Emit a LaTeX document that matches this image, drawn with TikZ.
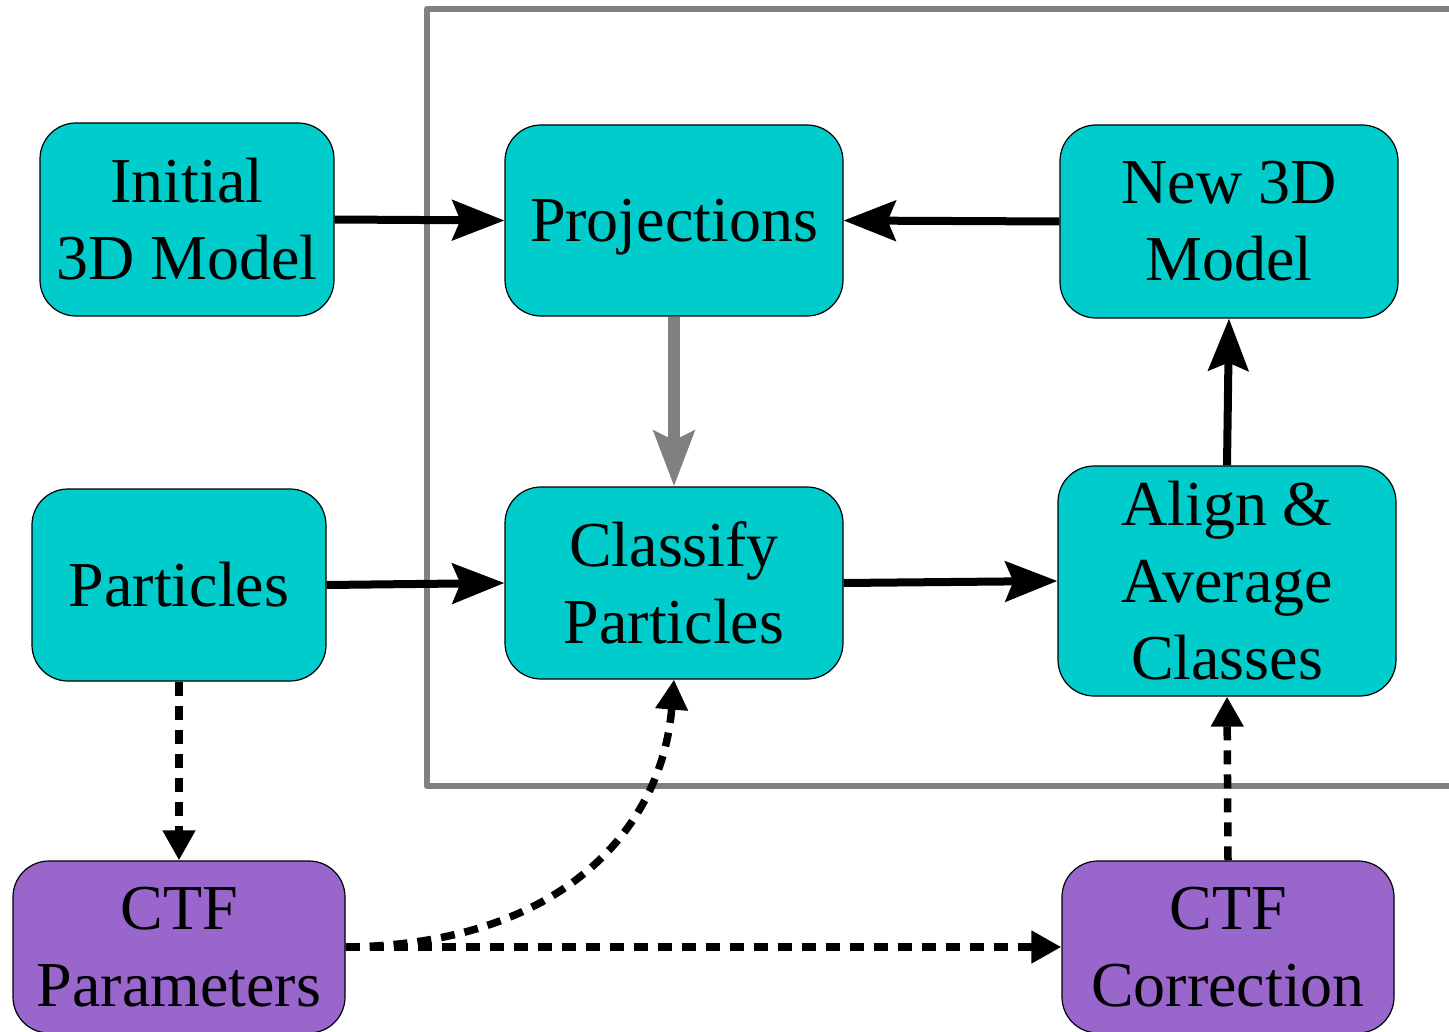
\documentclass[tikz,border=0pt]{standalone}
\usepackage{fontspec}
\setmainfont{Liberation Serif}
\usetikzlibrary{arrows.meta}
\definecolor{boxteal}{RGB}{0,204,204}
\definecolor{boxpurple}{RGB}{153,102,204}
\definecolor{framegray}{RGB}{128,128,128}
\tikzset{
  procbox/.style={draw=black, line width=1.2pt, fill=boxteal, rounded corners=36pt,
    align=center, inner sep=0pt, font=\fontsize{64}{77}\selectfont},
  ctfbox/.style={procbox, fill=boxpurple},
  solidarrow/.style={line width=8pt, -{Stealth[length=52pt, width=40pt, inset=8pt]}},
  grayarrow/.style={line width=12pt, draw=framegray, -{Stealth[length=55pt, width=40pt, inset=9pt]}},
  dasharrow/.style={line width=7.5pt, dash pattern=on 14pt off 10pt, -{Triangle[length=30pt, width=31pt]}}
}
\begin{document}
\begin{tikzpicture}[x=1pt, y=-1pt]
\useasboundingbox (0,0) rectangle (1449,1032);
\clip (0,0) rectangle (1449,1032);
% frame
\draw[framegray, line width=6.5pt, line join=round] (1470,9) -- (427,9) -- (427,786) -- (1470,786);
% boxes
\node[procbox, minimum width=294pt, minimum height=193pt] (init) at (187,219.5) {Initial\\3D Model};
\node[procbox, minimum width=338pt, minimum height=191pt] (proj) at (674,220.5) {\raisebox{-7pt}[\height][\depth]{Projections}};
\node[procbox, minimum width=338pt, minimum height=193pt] (new) at (1229,221.5) {New 3D\\Model};
\node[procbox, minimum width=294pt, minimum height=192pt] (part) at (179,585) {Particles};
\node[procbox, minimum width=338pt, minimum height=192pt] (class) at (674,583) {Classify\\Particles};
\node[procbox, minimum width=338pt, minimum height=230pt] (align) at (1227,581) {Align \&\\Average\\Classes};
\node[ctfbox, minimum width=332pt, minimum height=172pt] (ctfp) at (179,947) {CTF\\Parameters};
\node[ctfbox, minimum width=332pt, minimum height=172pt] (ctfc) at (1228,947) {CTF\\Correction};
% connectors
\draw[solidarrow] (init.east) -- (proj.west);
\draw[solidarrow] (new.west) -- (proj.east);
\draw[grayarrow] (proj.south) -- (class.north);
\draw[solidarrow] (part.east) -- (class.west);
\draw[solidarrow] (class.east) -- (align.west);
\draw[solidarrow] (align.north) -- (new.south);
\draw[dasharrow] (part.south) -- (ctfp.north);
\draw[dasharrow] (ctfp.east) .. controls (560,945) and (662,830) .. (class.south);
\draw[dasharrow] (ctfp.east) -- (ctfc.west);
\draw[dasharrow] (ctfc.north) -- (align.south);
\end{tikzpicture}
\end{document}
